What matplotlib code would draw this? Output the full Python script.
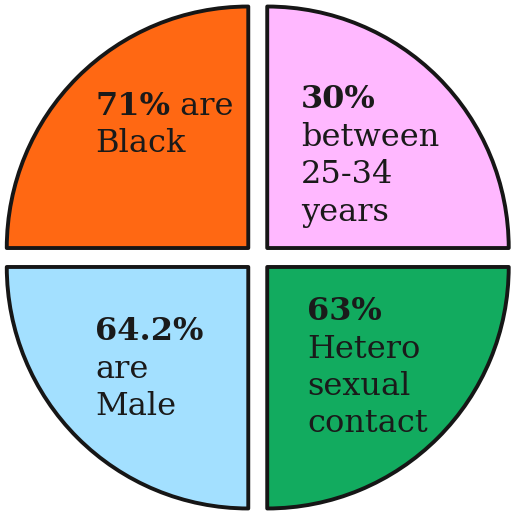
import matplotlib.pyplot as plt

# share of each quadrant (equal quarters) and their colours
values = [25, 25, 25, 25]
colors = ['#FFB8FF', '#FF6813', '#A3E0FF', '#12AB5F']  # pink, orange, blue, green

# label lines per quadrant: (bold part, regular part)
labels_pink = [('30%', ''), ('', 'between'), ('', '25-34'), ('', 'years')]
labels_orange = [('71%', ' are'), ('', 'Black')]
labels_blue = [('64.2%', ''), ('', 'are'), ('', 'Male')]
labels_green = [('63%', ''), ('', 'Hetero'), ('', 'sexual'), ('', 'contact')]

W, H = 512, 514
fig = plt.figure(figsize=(W / 100, H / 100), dpi=100)
ax = fig.add_axes([0, 0, 1, 1])

r = 241.5
ax.pie(values, colors=colors, explode=[13.4] * 4, startangle=0,
       counterclock=True, radius=r, center=(257.75, H - 257.5),
       wedgeprops=dict(linewidth=2.8, edgecolor='#161616', joinstyle='round'))
ax.set_xlim(0, W)
ax.set_ylim(0, H)
ax.set_aspect('auto')
ax.axis('off')

fs = 23
font = 'DejaVu Serif'
tc = '#1a1a1a'
fig.canvas.draw()
renderer = fig.canvas.get_renderer()


def put_block(x, y0, lines, step=37.5):
    # x, y0 in pixel coords from top-left (baseline of first line)
    for i, (b, t) in enumerate(lines):
        y = H - (y0 + i * step)
        xx = x
        if b:
            tb = ax.text(xx, y, b, fontsize=fs, family=font, weight='bold',
                         color=tc, va='baseline', ha='left')
            bb = tb.get_window_extent(renderer)
            xx = x + bb.width
        if t:
            ax.text(xx, y, t, fontsize=fs, family=font, color=tc,
                    va='baseline', ha='left')


put_block(95, 115, labels_orange)
put_block(301, 108, labels_pink)
put_block(95, 340, labels_blue)
put_block(307, 320, labels_green)

fig.savefig('out.png', dpi=100)
